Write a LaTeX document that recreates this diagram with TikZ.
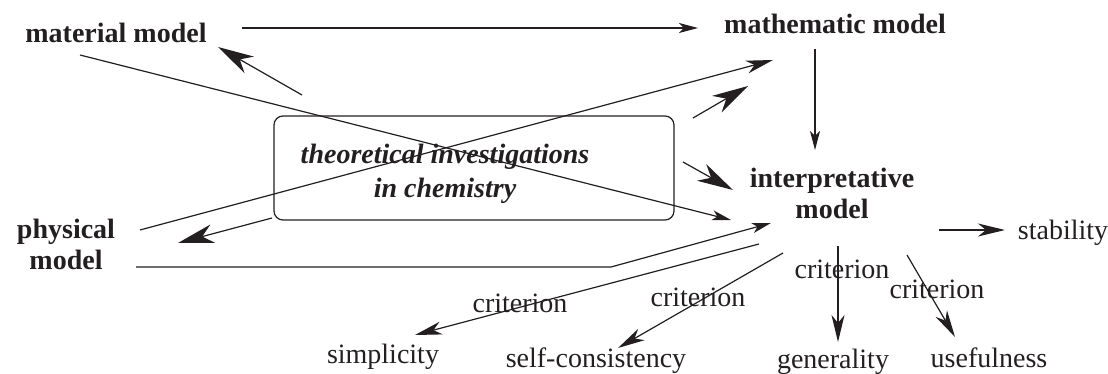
\documentclass[tikz,border=0pt]{standalone}
\usepackage{fontspec}
\setmainfont{Liberation Serif}
\usetikzlibrary{arrows.meta}
\definecolor{ink}{RGB}{35,31,32}
\begin{document}
\begin{tikzpicture}[x=1pt,y=-1pt,
  every node/.style={inner sep=0pt, text=ink, font=\fontsize{28}{31}\selectfont},
  lbl/.style={font=\fontsize{28}{31}\selectfont\bfseries},
  ttl/.style={font=\fontsize{28}{34}\selectfont\bfseries\itshape},
  conn/.style={draw=ink, line width=1.2pt},
  sm/.style={conn, -{Stealth[length=19pt,width=10pt,inset=5pt]}},
  md/.style={conn, -{Stealth[length=27pt,width=13pt,inset=8pt]}},
  bg/.style={conn, -{Stealth[length=36pt,width=19pt,inset=11pt]}},
  boxst/.style={draw=ink, line width=1.2pt, rounded corners=9pt, minimum width=400pt, minimum height=104pt},
]
\useasboundingbox (0,0) rectangle (1108,374);

% main nodes
\node[lbl, anchor=base] (mat) at (116,43) {material model};
\node[lbl, anchor=base] (math) at (835,34) {mathematic model};
\node[lbl, align=center] (interp) at (832,193) {interpretative\\model};
\node[lbl, align=center] (phys) at (66,244.5) {physical\\model};
\node[boxst] (box) at (474,168) {};
\node[ttl, align=center] (tic) at (445,174) {theoretical investigations\\in chemistry};

% criteria targets
\node[anchor=base] (stab) at (1063,239) {stability};
\node[anchor=base] (simp) at (383,363) {simplicity};
\node[anchor=base] (self) at (596,367) {self-consistency};
\node[anchor=base] (gen) at (833,368) {generality};
\node[anchor=base] (use) at (989,367) {usefulness};
\node[anchor=base] (c1) at (520,312) {criterion};
\node[anchor=base] (c2) at (698,306) {criterion};
\node[anchor=base] (c3) at (842,278) {criterion};
\node[anchor=base] (c4) at (937,298) {criterion};

% connector end points
\coordinate (m1) at (242,28);   \coordinate (m2) at (698,28);
\coordinate (v1) at (815,49);   \coordinate (v2) at (815,150);
\coordinate (a1) at (80,55);    \coordinate (a2) at (731,220);
\coordinate (b1) at (140,230);  \coordinate (b2) at (773,60);
\coordinate (c1a) at (302,95);  \coordinate (c1b) at (218,47);
\coordinate (d1) at (693,118);  \coordinate (d2) at (748,86);
\coordinate (e1) at (683,162);  \coordinate (e2) at (733,190);
\coordinate (f1) at (272,218);  \coordinate (f2) at (178,243);
\coordinate (g1) at (136,267);  \coordinate (g2) at (611,267); \coordinate (g3) at (771,223);
\coordinate (h1) at (759,244);  \coordinate (h2) at (415,335);
\coordinate (i1) at (783,253);  \coordinate (i2) at (618,348);
\coordinate (j1) at (838,246);  \coordinate (j2) at (838,342);
\coordinate (k1) at (907,255);  \coordinate (k2) at (955,337);
\coordinate (l1) at (939,230);  \coordinate (l2) at (1005,230);

% connectors
\draw[sm] (m1) -- (m2);
\draw[sm] (v1) -- (v2);
\draw[sm] (a1) -- (a2);
\draw[md] (b1) -- (b2);
\draw[bg] (c1a) -- (c1b);
\draw[bg] (d1) -- (d2);
\draw[bg] (e1) -- (e2);
\draw[bg] (f1) -- (f2);
\draw[sm] (g1) -- (g2) -- (g3);
\draw[md] (h1) -- (h2);
\draw[md] (i1) -- (i2);
\draw[md] (j1) -- (j2);
\draw[md] (k1) -- (k2);
\draw[md] (l1) -- (l2);
\end{tikzpicture}
\end{document}
